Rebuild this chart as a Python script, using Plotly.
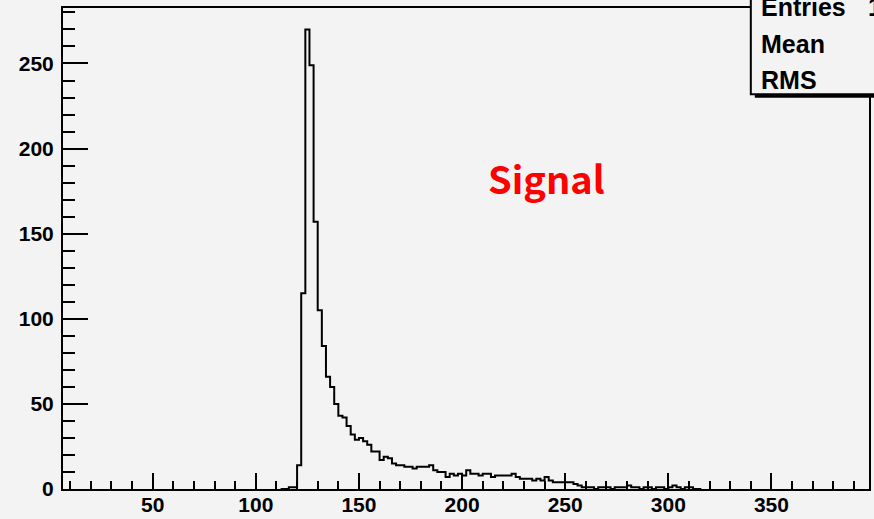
import plotly.graph_objects as go

# ---------------- data ----------------
BIN_LO = 112          # low edge of first listed bin
BIN_W = 2             # bin width
counts = [0, 0, 1, 1, 14, 115, 270, 249, 157, 105,
          84, 66, 60, 50, 43, 42, 37, 32, 29, 30,
          28, 26, 22, 22, 17, 19, 18, 15, 14, 14,
          13, 13, 12, 13, 13, 13, 14, 11, 10, 10,
          7, 9, 8, 9, 8, 11, 9, 9, 8, 9,
          9, 7, 8, 8, 8, 8, 9, 7, 6, 6,
          6, 5, 6, 5, 7, 5, 4, 4, 4, 4,
          4, 3, 2, 1, 1, 1, 0, 1, 1, 1,
          0, 1, 1, 1, 2, 1, 1, 0, 1, 1,
          0, 1, 1, 0, 1, 2, 1, 0, 1, 1,
          0, 0]

X_RANGE = [6.5, 397.3]
Y_RANGE = [0, 282.6]
x_tickvals = [50, 100, 150, 200, 250, 300, 350]
x_ticktext = ["50", "100", "150", "200", "250", "300", "350"]
y_tickvals = [0, 50, 100, 150, 200, 250]
y_ticktext = ["0", "50", "100", "150", "200", "250"]
x_minor = list(range(10, 400, 10))
y_minor = list(range(10, 290, 10))

stat_labels = ["Entries", "Mean", "RMS"]
stat_values = ["10000", "", ""]
title_text = "Signal"

# ---------------- layout constants ----------------
W, H = 874, 519
L, R, T, B = 62.5, 4.7, 8.3, 29.5
BG = "#f3f3f3"
FONT = "Liberation Sans"


def px_x(px):
    return (px - L) / (W - L - R)


def px_y(py):
    return (H - B - py) / (H - B - T)


edges = [BIN_LO + i * BIN_W for i in range(len(counts) + 1)]
ys = counts + [counts[-1]]

fig = go.Figure()
fig.add_trace(go.Scatter(
    x=edges, y=ys, mode="lines", line=dict(color="black", width=2, shape="hv"),
    hoverinfo="skip", cliponaxis=True))

tickfont = dict(family=FONT, size=21, color="black", weight="bold")

fig.update_xaxes(
    range=X_RANGE, showline=True, linecolor="black", linewidth=2, mirror=True,
    showgrid=False, zeroline=False, automargin=False,
    tickmode="array", tickvals=x_tickvals, ticktext=x_ticktext,
    ticks="inside", ticklen=16, tickwidth=1.5, tickcolor="black",
    minor=dict(tickmode="array", tickvals=x_minor, ticks="inside", ticklen=8,
               tickwidth=1.5, tickcolor="black", showgrid=False),
    tickfont=tickfont, ticklabelstandoff=-4)

fig.update_yaxes(
    range=Y_RANGE, showline=True, linecolor="black", linewidth=2, mirror=True,
    showgrid=False, zeroline=False, automargin=False,
    tickmode="array", tickvals=y_tickvals, ticktext=y_ticktext,
    ticks="inside", ticklen=25, tickwidth=1.5, tickcolor="black",
    minor=dict(tickmode="array", tickvals=y_minor, ticks="inside", ticklen=12,
               tickwidth=1.5, tickcolor="black", showgrid=False),
    tickfont=tickfont, ticklabelstandoff=3)

# stat box (shadow + box)
fig.add_shape(type="rect", xref="paper", yref="paper", layer="above",
              x0=px_x(755), x1=px_x(900), y0=px_y(98), y1=px_y(93),
              fillcolor="black", line=dict(width=0))
fig.add_shape(type="rect", xref="paper", yref="paper", layer="above",
              x0=px_x(751), x1=px_x(900), y0=px_y(94.5), y1=px_y(-20),
              fillcolor=BG, line=dict(color="black", width=2))

stat_y = [7.5, 44, 80]
for lab, val, yy in zip(stat_labels, stat_values, stat_y):
    fig.add_annotation(x=px_x(759), y=px_y(yy), xref="paper", yref="paper",
                       text=lab, showarrow=False, xanchor="left", yanchor="middle",
                       font=dict(family=FONT, size=25, color="black", weight="bold"))
    if val:
        fig.add_annotation(x=px_x(866), y=px_y(yy), xref="paper", yref="paper",
                           text=val, showarrow=False, xanchor="left", yanchor="middle",
                           font=dict(family=FONT, size=25, color="black", weight="bold"))

fig.add_annotation(x=px_x(546), y=px_y(178), xref="paper", yref="paper",
                   text=title_text, showarrow=False, xanchor="center", yanchor="middle",
                   font=dict(family="Noto Sans CJK JP", size=38, color="#ff0000", weight="bold"))

fig.update_layout(width=W, height=H, margin=dict(l=L, r=R, t=T, b=B, pad=0),
                  paper_bgcolor=BG, plot_bgcolor=BG, showlegend=False)

fig.write_html("out.html")
